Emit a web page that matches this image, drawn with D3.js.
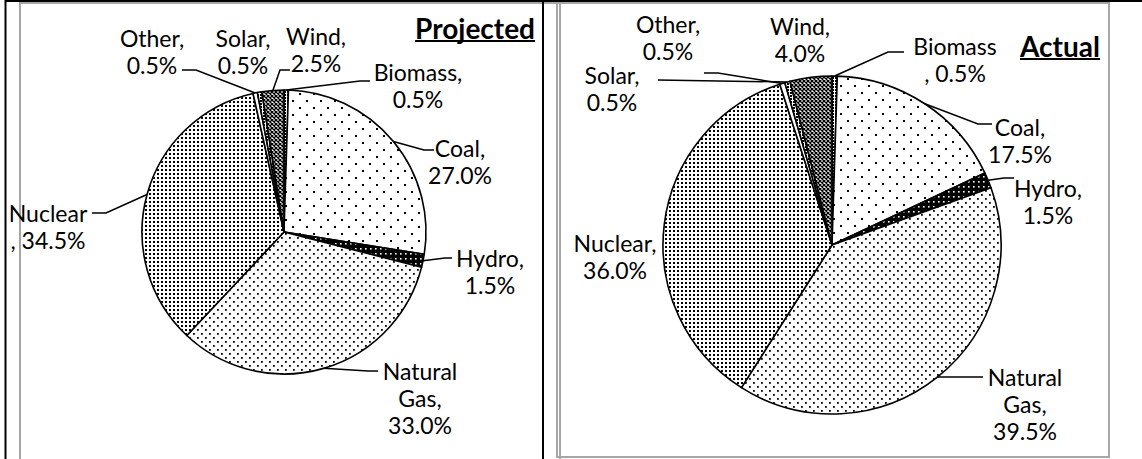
<!DOCTYPE html>
<html>
<head>
<meta charset="utf-8">
<script src="https://cdn.jsdelivr.net/npm/d3@7"></script>
<style>
  body { margin: 0; background: #fff; }
  svg text { font-family: Lato, "Open Sans", sans-serif; fill: #000; }
</style>
</head>
<body>
<svg id="chart" width="1142" height="459"></svg>
<script>
"use strict";

// Données : part de chaque source d'énergie (%)
const sources = ["Biomass", "Coal", "Hydro", "Natural Gas", "Nuclear", "Other", "Solar", "Wind"];
const projectedShare = [0.5, 27.0, 1.5, 33.0, 34.5, 0.5, 0.5, 2.5];
const actualShare = [0.5, 17.5, 1.5, 39.5, 36.0, 0.5, 0.5, 4.0];
const chartTitles = ["Projected", "Actual"];

// motif de remplissage par source
const fills = {
  "Biomass": "url(#pat-dense)",
  "Coal": "url(#pat-coal)",
  "Hydro": "url(#pat-hydro)",
  "Natural Gas": "url(#pat-gas)",
  "Nuclear": "url(#pat-nuclear)",
  "Other": "#ffffff",
  "Solar": "url(#pat-dense)",
  "Wind": "url(#pat-wind)"
};

// position des étiquettes (centre x, centre y de la 1re ligne) et lignes de rappel
const layouts = [
  {
    cx: 284, cy: 232, r: 142,
    title: { x: 535, y: 28 },
    labels: {
      "Biomass":     { x: 418, y: 72,  mode: "comma", leader: [[360, 81], [370, 81]] },
      "Coal":        { x: 460, y: 148, mode: "comma", leader: [[424, 150], [434, 150]] },
      "Hydro":       { x: 490, y: 258, mode: "comma", leader: [[445, 258], [452, 258]] },
      "Natural Gas": { x: 420, y: 371, mode: "gas",   leader: [[368, 371], [378, 371]] },
      "Nuclear":     { x: 48,  y: 213, mode: "lead",  leader: [[106, 213], [92, 213]] },
      "Other":       { x: 152, y: 38,  mode: "comma", leader: [[196, 70], [182, 70]] },
      "Solar":       { x: 243, y: 38,  mode: "comma", leader: null },
      "Wind":        { x: 316, y: 36,  mode: "comma", leader: [[280, 70], [290, 70]] }
    }
  },
  {
    cx: 832, cy: 245, r: 169,
    title: { x: 1100, y: 46 },
    labels: {
      "Biomass":     { x: 955,  y: 46,  mode: "lead",  leader: [[888, 52], [904, 52]] },
      "Coal":        { x: 1020, y: 127, mode: "comma", leader: [[978, 124], [992, 124]] },
      "Hydro":       { x: 1048, y: 188, mode: "comma", leader: [[1004, 178], [1014, 178]] },
      "Natural Gas": { x: 1025, y: 377, mode: "gas",   leader: [[972, 377], [983, 377]] },
      "Nuclear":     { x: 615,  y: 243, mode: "comma", leader: null },
      "Other":       { x: 668,  y: 24,  mode: "comma", leader: [[718, 73], [704, 73]] },
      "Solar":       { x: 612,  y: 75,  mode: "comma", leader: [[658, 80]] },
      "Wind":        { x: 800,  y: 26,  mode: "comma", leader: null }
    }
  }
];

const lineHeight = 27;
const fmt = d3.format(".1f");

const svg = d3.select("#chart");

/**
 * Crée les motifs (points, hachures) utilisés pour remplir les secteurs.
 */
function patterns(svg) {
  const defs = svg.append("defs");

  function dots(id, w, h, pts, size, bg, fg) {
    const p = defs.append("pattern")
      .attr("id", id)
      .attr("patternUnits", "userSpaceOnUse")
      .attr("width", w)
      .attr("height", h);
    p.append("rect").attr("width", w).attr("height", h).attr("fill", bg);
    pts.forEach(function(d) {
      p.append("rect")
        .attr("x", d[0]).attr("y", d[1])
        .attr("width", size).attr("height", size)
        .attr("fill", fg);
    });
  }

  dots("pat-coal", 14, 14, [[1, 1], [8, 8]], 2, "#fff", "#000");
  dots("pat-gas", 8, 8, [[1, 1], [5, 5]], 1.8, "#fff", "#000");
  dots("pat-nuclear", 4, 4, [[1, 1]], 2, "#fff", "#000");
  dots("pat-dense", 3, 3, [[0, 0]], 2, "#fff", "#000");
  dots("pat-hydro", 5, 5, [[1, 1]], 1.6, "#000", "#fff");

  const w = defs.append("pattern")
    .attr("id", "pat-wind")
    .attr("patternUnits", "userSpaceOnUse")
    .attr("width", 4)
    .attr("height", 4);
  w.append("rect").attr("width", 4).attr("height", 4).attr("fill", "#fff");
  w.append("path")
    .attr("d", "M0,0L4,4M4,0L0,4")
    .attr("stroke", "#000")
    .attr("stroke-width", 1.3);
}

// découpe du texte de l'étiquette selon le style d'Excel
function labelLines(name, value, mode) {
  const pct = fmt(value) + "%";
  if (mode === "gas") return ["Natural", "Gas,", pct];
  if (mode === "lead") return [name, ", " + pct];
  return [name + ",", pct];
}

/**
 * Dessine un graphique en secteurs avec ses étiquettes.
 */
function pieChart(g, values, layout, title) {
  const pie = d3.pie().sort(null).value(function(d) { return d.value; });
  const arcs = pie(sources.map(function(s, i) { return { name: s, value: values[i] }; }));
  const arc = d3.arc().innerRadius(0).outerRadius(layout.r);

  const chart = g.append("g")
    .attr("transform", "translate(" + layout.cx + "," + layout.cy + ")");

  chart.selectAll(".slice")
    .data(arcs)
    .enter()
    .append("path")
    .attr("class", "slice")
    .attr("d", arc)
    .attr("fill", function(d) { return fills[d.data.name]; })
    .attr("stroke", "#000")
    .attr("stroke-width", 1.6)
    .attr("stroke-linejoin", "round");

  // lignes de rappel
  arcs.forEach(function(d) {
    const lab = layout.labels[d.data.name];
    if (!lab.leader) return;
    const a = (d.startAngle + d.endAngle) / 2;
    const start = [layout.cx + layout.r * Math.sin(a), layout.cy - layout.r * Math.cos(a)];
    g.append("path")
      .attr("d", d3.line()([start].concat(lab.leader)))
      .attr("fill", "none")
      .attr("stroke", "#000")
      .attr("stroke-width", 1.5);
  });

  // étiquettes
  arcs.forEach(function(d) {
    const lab = layout.labels[d.data.name];
    const text = g.append("text")
      .attr("text-anchor", "middle")
      .attr("dominant-baseline", "central")
      .style("font-size", "23px");
    labelLines(d.data.name, d.data.value, lab.mode).forEach(function(line, i) {
      text.append("tspan")
        .attr("x", lab.x)
        .attr("y", lab.y + i * lineHeight)
        .text(line);
    });
  });

  // titre souligné
  const t = g.append("text")
    .attr("x", layout.title.x)
    .attr("y", layout.title.y)
    .attr("text-anchor", "end")
    .attr("dominant-baseline", "central")
    .style("font-size", "28px")
    .style("font-weight", "bold")
    .text(title);
  const tw = t.node().getComputedTextLength();
  g.append("line")
    .attr("x1", layout.title.x - tw)
    .attr("x2", layout.title.x)
    .attr("y1", layout.title.y + 13)
    .attr("y2", layout.title.y + 13)
    .attr("stroke", "#000")
    .attr("stroke-width", 2);
}

patterns(svg);

// cadres gris des deux graphiques
svg.append("rect")
  .attr("x", 20).attr("y", 3)
  .attr("width", 540).attr("height", 470)
  .attr("fill", "none")
  .attr("stroke", "#a6a6a6")
  .attr("stroke-width", 2);
svg.append("rect")
  .attr("x", 557).attr("y", 3)
  .attr("width", 552).attr("height", 454)
  .attr("fill", "none")
  .attr("stroke", "#a6a6a6")
  .attr("stroke-width", 2);

pieChart(svg.append("g"), projectedShare, layouts[0], chartTitles[0]);
pieChart(svg.append("g"), actualShare, layouts[1], chartTitles[1]);

// bordures noires du tableau
svg.append("line").attr("x1", 5).attr("x2", 1142).attr("y1", 1).attr("y2", 1)
  .attr("stroke", "#000").attr("stroke-width", 2);
svg.append("line").attr("x1", 5.5).attr("x2", 5.5).attr("y1", 0).attr("y2", 459)
  .attr("stroke", "#000").attr("stroke-width", 2);
svg.append("line").attr("x1", 543).attr("x2", 543).attr("y1", 0).attr("y2", 459)
  .attr("stroke", "#000").attr("stroke-width", 2);
</script>
</body>
</html>
